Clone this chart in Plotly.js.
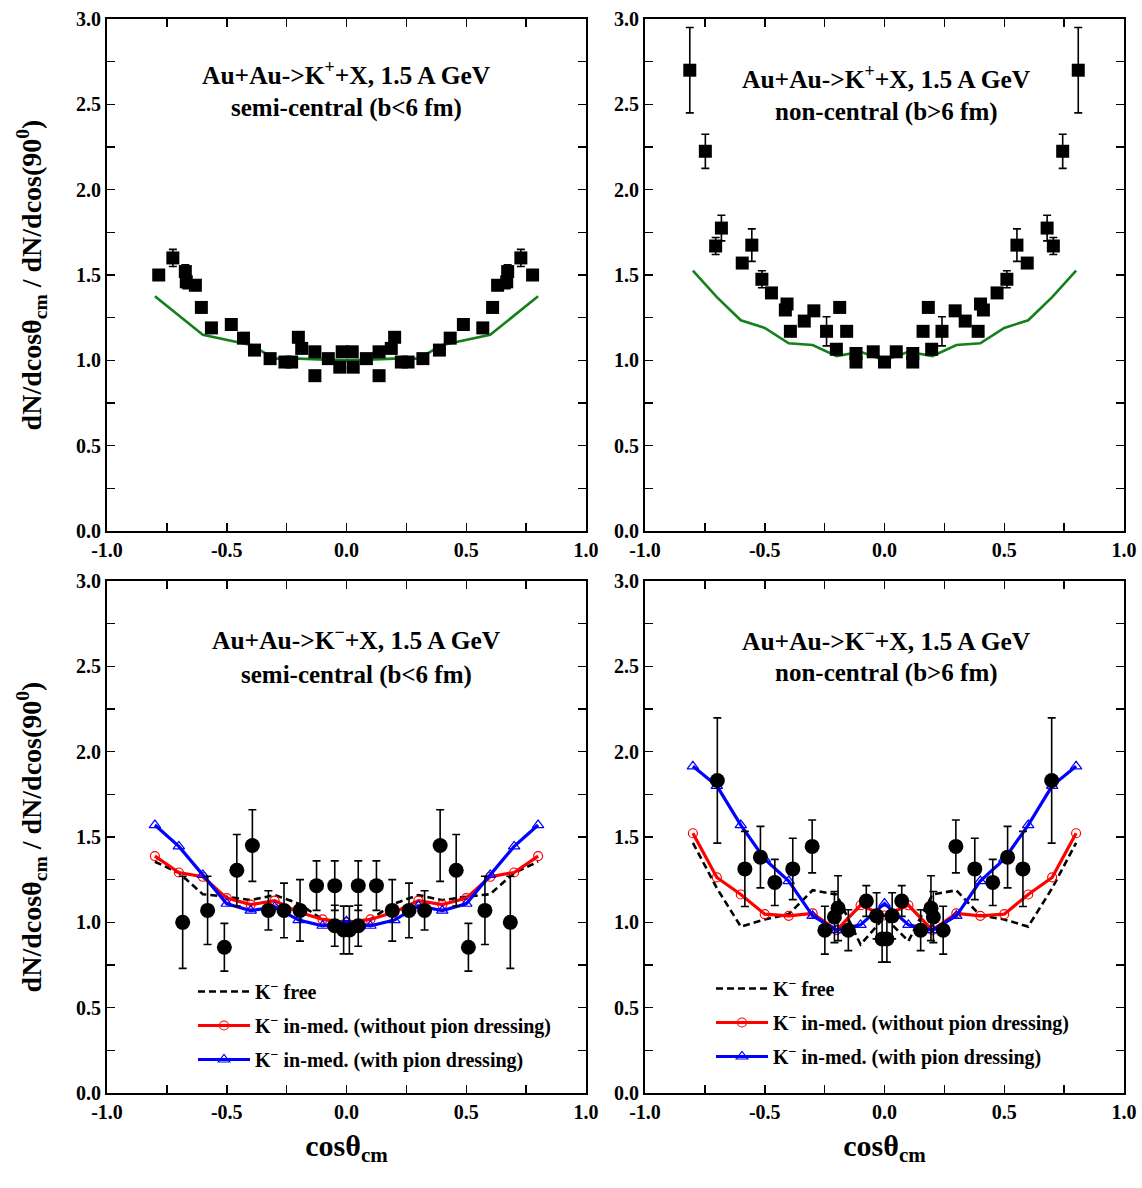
<!DOCTYPE html>
<html>
<head>
<meta charset="utf-8">
<script src="https://cdn.plot.ly/plotly-3.0.1.min.js"></script>
<style>html,body{margin:0;padding:0;background:#fff;}#chart{width:1142px;height:1188px;}</style>
</head>
<body>
<div id="chart"></div>
<script>
// ---------- tick labels ----------
const xTickVals = [-1, -0.5, 0, 0.5, 1];
const xTickText = ['-1.0', '-0.5', '0.0', '0.5', '1.0'];
const yTickVals = [0, 0.5, 1, 1.5, 2, 2.5, 3];
const yTickText = ['0.0', '0.5', '1.0', '1.5', '2.0', '2.5', '3.0'];

// ---------- panel texts ----------
const titleKplus = 'Au+Au->K<sup>+</sup>+X, 1.5 A GeV';
const titleKminus = 'Au+Au->K<sup>−</sup>+X, 1.5 A GeV';
const labelSemi = 'semi-central (b&lt;6 fm)';
const labelNon = 'non-central (b&gt;6 fm)';
const yTitle = 'dN/dcosθ<sub>cm</sub> / dN/dcos(90<sup>0</sup>)';
const xTitle = 'cosθ<sub>cm</sub>';
const legendNames = ['K<sup>−</sup> free', 'K<sup>−</sup> in-med. (without pion dressing)', 'K<sup>−</sup> in-med. (with pion dressing)'];

// ---------- K+ semi-central (top-left) ----------
const kpSemiX = [-0.784, -0.725, -0.673, -0.669, -0.631, -0.606, -0.564, -0.481, -0.430, -0.384, -0.319, -0.257, -0.229, -0.201, -0.187, -0.132, -0.132, -0.076, -0.028, -0.018, 0.024, 0.028, 0.083, 0.136, 0.136, 0.187, 0.201, 0.229, 0.257, 0.319, 0.388, 0.433, 0.488, 0.569, 0.610, 0.631, 0.669, 0.673, 0.728, 0.777];
const kpSemiY = [1.50, 1.60, 1.52, 1.46, 1.44, 1.31, 1.19, 1.21, 1.13, 1.06, 1.01, 0.99, 0.99, 1.135, 1.07, 1.05, 0.91, 1.01, 0.96, 1.05, 1.05, 0.96, 1.01, 1.05, 0.91, 1.07, 1.135, 0.99, 0.99, 1.01, 1.06, 1.13, 1.21, 1.19, 1.31, 1.44, 1.46, 1.52, 1.60, 1.50];
const kpSemiErr = [0.03, 0.05, 0.04, 0.04, 0.03, 0.03, 0.02, 0.02, 0.02, 0.02, 0.02, 0.02, 0.02, 0.02, 0.02, 0.02, 0.02, 0.02, 0.02, 0.02, 0.02, 0.02, 0.02, 0.02, 0.02, 0.02, 0.02, 0.02, 0.02, 0.02, 0.02, 0.02, 0.02, 0.02, 0.03, 0.03, 0.04, 0.04, 0.05, 0.03];
const kpSemiModelX = [-0.8, -0.6, -0.4, -0.3, -0.2, 0, 0.2, 0.3, 0.4, 0.6, 0.8];
const kpSemiModelY = [1.375, 1.15, 1.09, 1.01, 1.01, 1.0, 1.01, 1.01, 1.09, 1.15, 1.375];

// ---------- K+ non-central (top-right) ----------
const kpNonX = [-0.813, -0.748, -0.705, -0.681, -0.594, -0.554, -0.512, -0.472, -0.414, -0.407, -0.393, -0.335, -0.295, -0.242, -0.201, -0.187, -0.158, -0.119, -0.119, -0.047, 0.0, 0.049, 0.118, 0.118, 0.161, 0.183, 0.197, 0.240, 0.295, 0.337, 0.391, 0.401, 0.413, 0.470, 0.511, 0.553, 0.596, 0.679, 0.705, 0.744, 0.809];
const kpNonY = [2.70, 2.225, 1.67, 1.775, 1.57, 1.675, 1.475, 1.395, 1.295, 1.33, 1.17, 1.23, 1.29, 1.17, 1.065, 1.31, 1.17, 1.04, 0.99, 1.05, 0.99, 1.05, 1.04, 0.99, 1.17, 1.31, 1.065, 1.17, 1.29, 1.23, 1.17, 1.33, 1.295, 1.395, 1.475, 1.675, 1.57, 1.775, 1.67, 2.225, 2.70];
const kpNonErr = [0.25, 0.10, 0.05, 0.075, 0.02, 0.095, 0.05, 0.03, 0.02, 0.02, 0.02, 0.02, 0.02, 0.085, 0.02, 0.02, 0.02, 0.02, 0.02, 0.02, 0.02, 0.02, 0.02, 0.02, 0.02, 0.02, 0.02, 0.085, 0.02, 0.02, 0.02, 0.02, 0.02, 0.03, 0.05, 0.095, 0.02, 0.075, 0.05, 0.10, 0.25];
const kpNonModelX = [-0.8, -0.7, -0.6, -0.5, -0.4, -0.3, -0.2, -0.1, 0, 0.1, 0.2, 0.3, 0.4, 0.5, 0.6, 0.7, 0.8];
const kpNonModelY = [1.525, 1.37, 1.235, 1.19, 1.10, 1.09, 1.025, 1.05, 1.0, 1.05, 1.025, 1.09, 1.10, 1.19, 1.235, 1.37, 1.525];

// ---------- K- semi-central (bottom-left) ----------
const kmSemiX = [-0.684, -0.58, -0.51, -0.458, -0.393, -0.326, -0.261, -0.194, -0.125, -0.049, -0.049, -0.012, 0.012, 0.049, 0.049, 0.125, 0.191, 0.261, 0.326, 0.391, 0.458, 0.509, 0.578, 0.684];
const kmSemiY = [1.0, 1.07, 0.854, 1.305, 1.45, 1.07, 1.07, 1.07, 1.215, 1.215, 0.98, 0.955, 0.955, 1.215, 0.98, 1.215, 1.07, 1.07, 1.07, 1.45, 1.305, 0.854, 1.07, 1.0];
const kmSemiErr = [0.27, 0.2, 0.14, 0.21, 0.21, 0.115, 0.16, 0.18, 0.145, 0.145, 0.12, 0.14, 0.14, 0.145, 0.12, 0.145, 0.18, 0.16, 0.115, 0.21, 0.21, 0.14, 0.2, 0.27];
const modelX = [-0.8, -0.7, -0.6, -0.5, -0.4, -0.3, -0.2, -0.1, 0, 0.1, 0.2, 0.3, 0.4, 0.5, 0.6, 0.7, 0.8];
const kmSemiFree = [1.355, 1.29, 1.165, 1.15, 1.13, 1.16, 1.11, 1.017, 1.0, 1.017, 1.11, 1.16, 1.13, 1.15, 1.165, 1.29, 1.355];
const kmSemiNoPion = [1.388, 1.292, 1.267, 1.142, 1.104, 1.127, 1.06, 1.017, 1.0, 1.017, 1.06, 1.127, 1.104, 1.142, 1.267, 1.292, 1.388];
const kmSemiPion = [1.57, 1.445, 1.278, 1.109, 1.069, 1.09, 1.013, 0.98, 1.006, 0.98, 1.013, 1.096, 1.069, 1.109, 1.278, 1.445, 1.57];

// ---------- K- non-central (bottom-right) ----------
const kmNonX = [-0.698, -0.583, -0.518, -0.458, -0.383, -0.302, -0.249, -0.209, -0.194, -0.151, -0.076, -0.033, -0.01, 0.01, 0.032, 0.072, 0.151, 0.194, 0.204, 0.245, 0.298, 0.377, 0.452, 0.514, 0.578, 0.698];
const kmNonY = [1.831, 1.313, 1.382, 1.234, 1.313, 1.445, 0.954, 1.031, 1.083, 0.954, 1.125, 1.038, 0.902, 0.902, 1.038, 1.125, 0.954, 1.083, 1.031, 0.954, 1.445, 1.313, 1.234, 1.382, 1.313, 1.831];
const kmNonErr = [0.367, 0.22, 0.18, 0.135, 0.18, 0.155, 0.14, 0.15, 0.19, 0.12, 0.09, 0.135, 0.135, 0.135, 0.135, 0.09, 0.12, 0.19, 0.15, 0.14, 0.155, 0.18, 0.135, 0.18, 0.22, 0.367];
const kmNonFree = [1.466, 1.20, 0.975, 1.017, 1.048, 1.188, 1.163, 0.87, 1.03, 0.89, 1.163, 1.188, 1.04, 1.017, 0.975, 1.2, 1.466];
const kmNonNoPion = [1.522, 1.263, 1.163, 1.048, 1.038, 1.052, 0.954, 1.10, 1.04, 1.10, 0.954, 1.052, 1.038, 1.048, 1.163, 1.263, 1.522];
const kmNonPion = [1.914, 1.80, 1.57, 1.37, 1.242, 1.038, 0.954, 0.985, 1.11, 0.985, 0.954, 1.038, 1.242, 1.37, 1.57, 1.80, 1.914];

// ---------- styling ----------
const FONT = 'Liberation Serif, Times New Roman, serif';
const GREEN = '#13801a';

function dataTrace(x, y, err, xa, ya, symbol, size) {
  return {
    x: x, y: y, xaxis: xa, yaxis: ya, type: 'scatter', mode: 'markers', showlegend: false,
    marker: {symbol: symbol, size: size, color: '#000'},
    error_y: {type: 'data', array: err, visible: true, color: '#000', thickness: 1.6, width: 4}
  };
}
function greenLine(x, y, xa, ya) {
  return {x: x, y: y, xaxis: xa, yaxis: ya, type: 'scatter', mode: 'lines', showlegend: false,
    line: {color: GREEN, width: 2.6}};
}
function modelTraces(free, noPion, pion, xa, ya, leg, grp) {
  return [
    {x: modelX, y: free, xaxis: xa, yaxis: ya, type: 'scatter', mode: 'lines', name: legendNames[0],
     legend: leg, legendgroup: grp + 'a', line: {color: '#000', width: 2.6, dash: '7px,4px'}},
    {x: modelX, y: noPion, xaxis: xa, yaxis: ya, type: 'scatter', mode: 'lines+markers', name: legendNames[1],
     legend: leg, legendgroup: grp + 'b', line: {color: '#ff0000', width: 3.2},
     marker: {symbol: 'circle-open', size: 9, color: '#ff0000', line: {width: 1.2}}},
    {x: modelX, y: pion, xaxis: xa, yaxis: ya, type: 'scatter', mode: 'lines+markers', name: legendNames[2],
     legend: leg, legendgroup: grp + 'c', line: {color: '#0000ff', width: 3.2},
     marker: {symbol: 'triangle-up-open', size: 10, color: '#0000ff', line: {width: 1.2}}}
  ];
}

const traces = [];
traces.push(greenLine(kpSemiModelX, kpSemiModelY, 'x', 'y'));
traces.push(dataTrace(kpSemiX, kpSemiY, kpSemiErr, 'x', 'y', 'square', 13));
traces.push(greenLine(kpNonModelX, kpNonModelY, 'x2', 'y2'));
traces.push(dataTrace(kpNonX, kpNonY, kpNonErr, 'x2', 'y2', 'square', 13));
modelTraces(kmSemiFree, kmSemiNoPion, kmSemiPion, 'x3', 'y3', 'legend', 'L').forEach(t => traces.push(t));
traces.push(dataTrace(kmSemiX, kmSemiY, kmSemiErr, 'x3', 'y3', 'circle', 15));
modelTraces(kmNonFree, kmNonNoPion, kmNonPion, 'x4', 'y4', 'legend2', 'R').forEach(t => traces.push(t));
traces.push(dataTrace(kmNonX, kmNonY, kmNonErr, 'x4', 'y4', 'circle', 15));

const W = 1142, H = 1188;
const xDomL = [107 / W, 586 / W], xDomR = [645 / W, 1124 / W];
const yDomT = [1 - 531 / H, 1 - 19 / H], yDomB = [1 - 1093 / H, 1 - 581 / H];

const tickFont = {family: FONT, size: 20, weight: 'bold', color: '#000'};
function axisBase() {
  return {
    showline: true, linewidth: 2, linecolor: '#000', mirror: 'ticks',
    ticks: 'inside', ticklen: 8, tickwidth: 1.5, tickcolor: '#000',
    showgrid: false, zeroline: false, tickfont: tickFont, automargin: false,
    tickmode: 'array',
    minor: {tickmode: 'linear', tick0: 0, dtick: 0.25, ticks: 'inside', ticklen: 8, tickwidth: 1.5, tickcolor: '#000', showgrid: false}
  };
}
function xAxis(dom, anchor, withTitle) {
  const a = axisBase();
  a.domain = dom; a.anchor = anchor; a.range = [-1, 1];
  a.tickvals = xTickVals; a.ticktext = xTickText;
  if (withTitle) a.title = {text: xTitle, font: {family: FONT, size: 30, weight: 'bold', color: '#000'}, standoff: 13};
  return a;
}
function yAxis(dom, anchor, withTitle) {
  const a = axisBase();
  a.domain = dom; a.anchor = anchor; a.range = [0, 3];
  a.tickvals = yTickVals; a.ticktext = yTickText;
  if (withTitle) a.title = {text: yTitle, font: {family: FONT, size: 28, weight: 'bold', color: '#000'}, standoff: 26};
  return a;
}

const annFont1 = {family: FONT, size: 25.5, weight: 'bold', color: '#000'};
const annFont2 = {family: FONT, size: 25, weight: 'bold', color: '#000'};
function ann(text, x, y, xr, yr, f) {
  return {text: text, x: x, y: y, xref: xr, yref: yr, showarrow: false, font: f, xanchor: 'center', yanchor: 'middle'};
}

const legFont = {family: FONT, size: 20, weight: 'bold', color: '#000'};
const layout = {
  width: W, height: H,
  margin: {l: 0, r: 0, t: 0, b: 0},
  paper_bgcolor: '#fff', plot_bgcolor: '#fff',
  font: {family: FONT, color: '#000'},
  xaxis: xAxis(xDomL, 'y', false), yaxis: yAxis(yDomT, 'x', true),
  xaxis2: xAxis(xDomR, 'y2', false), yaxis2: yAxis(yDomT, 'x2', false),
  xaxis3: xAxis(xDomL, 'y3', true), yaxis3: yAxis(yDomB, 'x3', true),
  xaxis4: xAxis(xDomR, 'y4', true), yaxis4: yAxis(yDomB, 'x4', false),
  legend: {x: 193 / W, y: 1 - 972 / H, xanchor: 'left', yanchor: 'top', bgcolor: 'rgba(0,0,0,0)',
    font: legFont, tracegroupgap: 5, itemwidth: 52, traceorder: 'grouped'},
  legend2: {x: 711 / W, y: 1 - 969 / H, xanchor: 'left', yanchor: 'top', bgcolor: 'rgba(0,0,0,0)',
    font: legFont, tracegroupgap: 5, itemwidth: 52, traceorder: 'grouped'},
  annotations: [
    ann(titleKplus, 0, 2.68, 'x', 'y', annFont1), ann(labelSemi, 0, 2.48, 'x', 'y', annFont2),
    ann(titleKplus, 0.01, 2.66, 'x2', 'y2', annFont1), ann(labelNon, 0.01, 2.455, 'x2', 'y2', annFont2),
    ann(titleKminus, 0.04, 2.666, 'x3', 'y3', annFont1), ann(labelSemi, 0.04, 2.449, 'x3', 'y3', annFont2),
    ann(titleKminus, 0.01, 2.66, 'x4', 'y4', annFont1), ann(labelNon, 0.01, 2.46, 'x4', 'y4', annFont2)
  ]
};

Plotly.newPlot('chart', traces, layout, {displayModeBar: false, staticPlot: true});
</script>
</body>
</html>
